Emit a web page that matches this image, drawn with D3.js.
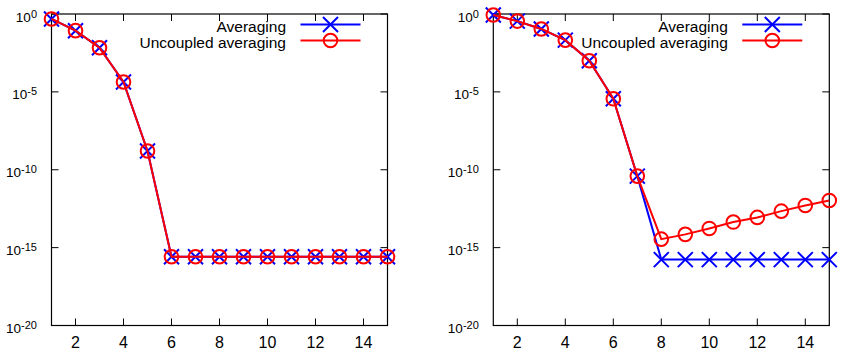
<!DOCTYPE html>
<html>
<head>
<meta charset="utf-8">
<script src="https://cdn.jsdelivr.net/npm/d3@7"></script>
<style>
  body { margin: 0; background: #fff; }
  text { font-family: "Liberation Sans", Arial, sans-serif; fill: #000; }
</style>
</head>
<body>
<script>
const xs = [1, 2, 3, 4, 5, 6, 7, 8, 9, 10, 11, 12, 13, 14, 15]
const xTicks = [2, 4, 6, 8, 10, 12, 14]
const yTickExps = [0, -5, -10, -15, -20]
const seriesNames = ['Averaging', 'Uncoupled averaging']

const leftAveraging = [0.48, 0.085, 6.8e-3, 4.3e-5, 1.6e-9, 2.6e-16, 2.6e-16, 2.6e-16, 2.6e-16, 2.6e-16, 2.6e-16, 2.6e-16, 2.6e-16, 2.6e-16, 2.6e-16]
const leftUncoupled = [0.48, 0.085, 6.8e-3, 4.3e-5, 1.6e-9, 2.6e-16, 2.6e-16, 2.6e-16, 2.6e-16, 2.6e-16, 2.6e-16, 2.6e-16, 2.6e-16, 2.6e-16, 2.6e-16]
const rightAveraging = [0.86, 0.35, 0.11, 0.021, 1.0e-3, 3.6e-6, 3.9e-11, 1.7e-16, 1.7e-16, 1.7e-16, 1.7e-16, 1.7e-16, 1.7e-16, 1.7e-16, 1.7e-16]
const rightUncoupled = [0.86, 0.35, 0.11, 0.021, 1.0e-3, 3.6e-6, 3.9e-11, 3.5e-15, 7.1e-15, 1.7e-14, 4.4e-14, 8.7e-14, 2.2e-13, 5.1e-13, 1.07e-12]

const width = 842
const height = 360
const plotTop = 14
const plotBottom = 325.5
const blue = '#0000ff'
const red = '#ff0000'

const svg = d3.select('body').append('svg')
  .attr('width', width)
  .attr('height', height)

const y = d3.scaleLog().domain([1e-20, 1]).range([plotBottom, plotTop])

// cross marker path
const cross = s => `M${-s},${-s}L${s},${s}M${-s},${s}L${s},${-s}`

function panel (left, right, avg, unc) {
  const x = d3.scaleLinear().domain([1, 15]).range([left, right])
  const g = svg.append('g')

  // ticks (mirrored on all sides, pointing inward)
  xTicks.forEach(t => {
    g.append('line').attr('x1', x(t)).attr('x2', x(t)).attr('y1', plotBottom).attr('y2', plotBottom - 7)
      .attr('stroke', '#000')
    g.append('line').attr('x1', x(t)).attr('x2', x(t)).attr('y1', plotTop).attr('y2', plotTop + 7)
      .attr('stroke', '#000')
    g.append('text').attr('x', x(t)).attr('y', plotBottom + 22)
      .attr('text-anchor', 'middle').style('font-size', '16px').text(t)
  })
  yTickExps.forEach(e => {
    const v = Math.pow(10, e)
    g.append('line').attr('x1', left).attr('x2', left + 7).attr('y1', y(v)).attr('y2', y(v))
      .attr('stroke', '#000')
    g.append('line').attr('x1', right).attr('x2', right - 7).attr('y1', y(v)).attr('y2', y(v))
      .attr('stroke', '#000')
    const t = g.append('text').attr('x', left - 14.5).attr('y', y(v) + 7.5)
      .attr('text-anchor', 'end').style('font-size', '13.5px')
    t.append('tspan').text('10')
    t.append('tspan').attr('dy', -4).style('font-size', '11px').text(e)
  })

  g.append('rect').attr('x', left).attr('y', plotTop)
    .attr('width', right - left).attr('height', plotBottom - plotTop)
    .attr('fill', 'none').attr('stroke', '#000').attr('stroke-width', 1.2)

  const line = d3.line().x((d, i) => x(xs[i])).y(d => y(d))

  // Averaging (blue crosses)
  g.append('path').datum(avg).attr('d', line)
    .attr('fill', 'none').attr('stroke', blue).attr('stroke-width', 2)
  g.selectAll('.cr').data(avg).enter().append('path')
    .attr('transform', (d, i) => `translate(${x(xs[i])},${y(d)})`)
    .attr('d', cross(7.5)).attr('stroke', blue).attr('stroke-width', 2).attr('fill', 'none')

  // Uncoupled averaging (red circles)
  g.append('path').datum(unc).attr('d', line)
    .attr('fill', 'none').attr('stroke', red).attr('stroke-width', 2)
  g.selectAll('.ci').data(unc).enter().append('circle')
    .attr('cx', (d, i) => x(xs[i])).attr('cy', d => y(d)).attr('r', 6.8)
    .attr('fill', 'none').attr('stroke', red).attr('stroke-width', 2)

  // legend
  seriesNames.forEach((name, i) => {
    const ly = 24.5 + i * 16
    const col = i === 0 ? blue : red
    g.append('text').attr('x', right - 101.5).attr('y', ly + 7)
      .attr('text-anchor', 'end').style('font-size', '15.5px').text(name)
    g.append('line').attr('x1', right - 87).attr('x2', right - 27).attr('y1', ly).attr('y2', ly)
      .attr('stroke', col).attr('stroke-width', 2)
    const mx = right - 57
    if (i === 0) {
      g.append('path').attr('transform', `translate(${mx},${ly})`).attr('d', cross(7.5))
        .attr('stroke', col).attr('stroke-width', 2).attr('fill', 'none')
    } else {
      g.append('circle').attr('cx', mx).attr('cy', ly).attr('r', 6.8)
        .attr('fill', 'none').attr('stroke', col).attr('stroke-width', 2)
    }
  })
}

panel(51.5, 387.5, leftAveraging, leftUncoupled)
panel(493.3, 829.3, rightAveraging, rightUncoupled)
</script>
</body>
</html>
